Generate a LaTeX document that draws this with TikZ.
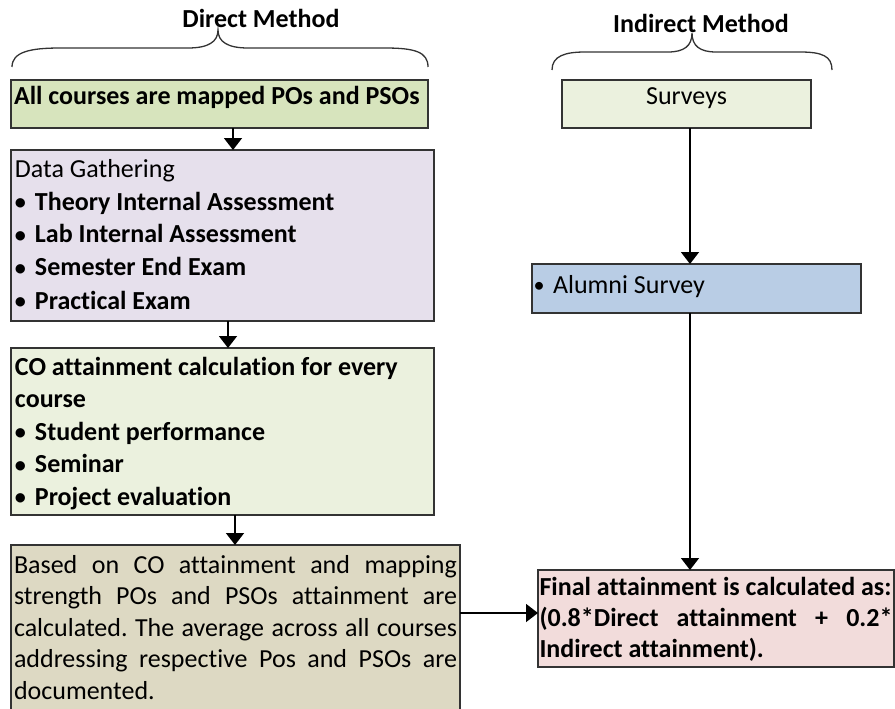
\documentclass[tikz,border=0pt]{standalone}
\usepackage{fontspec}
\setmainfont{Carlito}[Ligatures=NoCommon]
\usetikzlibrary{arrows.meta}

\definecolor{mapfill}{HTML}{D7E4BD}
\definecolor{datafill}{HTML}{E6E0EC}
\definecolor{cofill}{HTML}{EBF1DE}
\definecolor{basefill}{HTML}{DDD9C3}
\definecolor{surveyfill}{HTML}{EBF1DE}
\definecolor{alumnifill}{HTML}{B9CDE5}
\definecolor{finalfill}{HTML}{F2DCDB}

\newcommand\bdot{\raisebox{0.5pt}{\scalebox{0.85}{\textbullet}}}
\newcommand\blt{\makebox[20pt][l]{\bdot}}
% ragged nodes get the font's own interword space back
\newcommand\fontspacing{\spaceskip=0pt\xspaceskip=0pt\relax}

\begin{document}
\begin{tikzpicture}[x=1pt, y=-1pt,
  box/.style={draw=black!80, line width=1.6pt, rectangle, anchor=north west,
              inner ysep=0pt, outer sep=0pt},
  title/.style={anchor=base, font=\fontsize{26}{31}\selectfont\bfseries},
  arr/.style={line width=1.6pt, draw=black, -{Triangle[width=18pt,length=12pt]}},
  bracepath/.style={draw=black!80, line width=1.3pt}
]
\clip (0,0) rectangle (895,709);
\fill[white] (0,0) rectangle (895,709);

% column guides for the connectors
\coordinate (c1) at (233,0);
\coordinate (c2) at (228,0);
\coordinate (c3) at (235,0);
\coordinate (c4) at (690,0);
\coordinate (hy) at (0,613);

% headings and braces
\node[title] (direct) at (261,28) {Direct Method};
\node[title] (indirect) at (701,33) {Indirect Method};

\draw[bracepath] (12,67) .. controls (12,52) and (30,48) .. (60,48) -- (188,48)
  .. controls (208,48) and (218,42) .. (218,30)
  .. controls (218,42) and (228,48) .. (248,48) -- (385,48)
  .. controls (415,48) and (428,52) .. (428,67);
\draw[bracepath] (552,70) .. controls (552,56) and (565,52) .. (585,52) -- (668,52)
  .. controls (684,52) and (692,46) .. (692,33)
  .. controls (692,46) and (700,52) .. (716,52) -- (800,52)
  .. controls (822,52) and (832,56) .. (832,70);

% direct method column
\node[box, fill=mapfill, text width=411pt, inner xsep=3pt, align=left,
      text height=24pt, text depth=24pt,
      font=\fontsize{26}{33}\selectfont\bfseries] (map) at (11,80)
  {\fontspacing\mbox{All courses are mapped POs and PSOs}};

\node[box, fill=datafill, text width=415pt, inner xsep=4pt, align=left,
      text height=27pt, text depth=144pt,
      font=\fontsize{26}{33}\selectfont] (data) at (11,150)
  {\fontspacing Data Gathering\\
   \textbf{\blt Theory Internal Assessment}\\
   \textbf{\blt Lab Internal Assessment}\\
   \textbf{\blt Semester End Exam}\\
   \textbf{\blt Practical Exam}};

\node[box, fill=cofill, text width=415pt, inner xsep=4pt, align=left,
      text height=27pt, text depth=140pt,
      font=\fontsize{26}{32.5}\selectfont\bfseries] (co) at (11,348)
  {\fontspacing CO attainment calculation for every\\
   course\\
   \blt Student performance\\
   \blt Seminar\\
   \blt Project evaluation};

\node[box, fill=basefill, text width=443pt, inner xsep=3pt, align=justify,
      text height=28pt, text depth=150pt,
      font=\fontsize{26}{31.5}\selectfont] (po) at (11,545)
  {\frenchspacing Based on CO attainment and mapping\linebreak
   strength POs and PSOs attainment are\linebreak
   calculated. The average across all courses\linebreak
   addressing respective Pos and PSOs are\linebreak
   documented.};

% indirect method column
\node[box, fill=surveyfill, text width=241pt, inner xsep=4pt, align=center,
      text height=25pt, text depth=23pt,
      font=\fontsize{26}{31}\selectfont] (surveys) at (562,80)
  {Surveys};

\node[box, fill=alumnifill, text width=326pt, inner xsep=1.5pt, align=left,
      text height=29pt, text depth=20pt,
      font=\fontsize{26}{31}\selectfont] (alumni) at (532,264)
  {\fontspacing\makebox[19.5pt][l]{\bdot}Alumni Survey};

\node[box, fill=finalfill, text width=353pt, inner xsep=1.5pt, align=justify,
      text height=25pt, text depth=72pt,
      font=\fontsize{26}{31}\selectfont\bfseries] (final) at (538,570)
  {Final attainment is calculated as:\newline
   (0.8*Direct attainment + 0.2*\linebreak
   Indirect attainment).};

% connectors
\draw[arr] (map.south -| c1) -- (data.north -| c1);
\draw[arr] (data.south -| c2) -- (co.north -| c2);
\draw[arr] (co.south -| c3) -- (po.north -| c3);
\draw[arr] (po.east |- hy) -- (final.west |- hy);
\draw[arr] (surveys.south -| c4) -- (alumni.north -| c4);
\draw[arr] (alumni.south -| c4) -- (final.north -| c4);
\end{tikzpicture}
\end{document}
